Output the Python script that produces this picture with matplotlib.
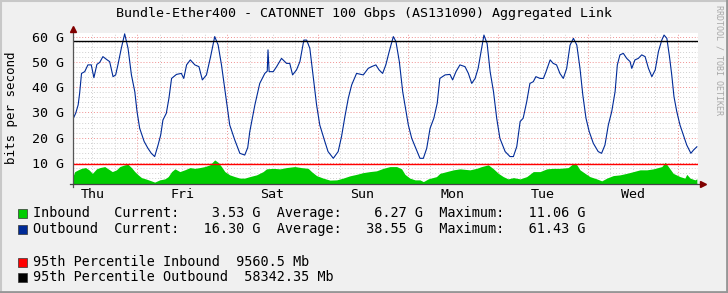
import matplotlib
matplotlib.use("Agg")
import matplotlib.pyplot as plt
from matplotlib.patches import Rectangle
from matplotlib.lines import Line2D

# 그림 크기 (픽셀)
W, H = 728, 293
MONO = "DejaVu Sans Mono"

title = "Bundle-Ether400 - CATONNET 100 Gbps (AS131090) Aggregated Link"
day_names = ["Thu", "Fri", "Sat", "Sun", "Mon", "Tue", "Wed"]

# 목요일 00:00 부터의 시간(h)
out_hours = [6.8, 7.55, 8.2, 8.6, 9.1, 9.95, 10.8, 11.7, 12.4, 13.2,
             13.95, 14.8, 15.75, 16.6, 17.5, 18.2, 18.8, 19.7, 20.6, 21.5,
             22.4, 23.3, 23.9, 24.6, 25.8, 26.8, 27.7, 28.6, 29.5, 30.2,
             30.8, 31.7, 32.4, 33.1, 34.4, 35.7, 36.35, 37.1, 38.1, 39.3,
             40.4, 41.3, 42.4, 43.5, 44.6, 45.5, 46.4, 47.55, 48.6, 49.95,
             51.3, 52.6, 53.4, 53.95, 55.3, 56.6, 57.95, 58.6, 58.8, 59.1,
             60.2, 61.1, 62.4, 63.75, 64.6, 65.35, 66.4, 67.3, 68.35, 69.1,
             69.95, 70.8, 71.75, 72.6, 73.95, 74.8, 76.2, 77.5, 78.4, 79.3,
             80.2, 81.1, 82.4, 84.2, 85.5, 86.4, 87.55, 88.4, 89.35, 90.2,
             91.1, 92.2, 92.9, 93.8, 94.7, 95.3, 96.2, 97.1, 98.4, 99.3,
             100.2, 101.1, 102.0, 103.0, 103.9, 104.6, 106.0, 107.3, 108.0, 108.9,
             109.95, 111.3, 112.2, 113.1, 114.0, 114.8, 115.5, 116.35, 117.2, 118.0,
             118.9, 119.75, 120.6, 122.0, 123.3, 124.2, 125.1, 126.0, 126.8, 127.75,
             128.6, 129.5, 130.2, 131.3, 132.2, 132.9, 134.0, 134.8, 135.7, 136.6,
             137.5, 138.4, 139.3, 140.2, 141.1, 141.95, 142.7, 143.55, 144.4, 145.5,
             146.8, 147.7, 148.6, 149.5, 150.4, 151.3, 151.9, 152.6, 153.5, 154.4,
             155.3, 155.75, 156.6, 157.5, 158.4, 159.3, 160.2, 161.1, 162.0, 162.85,
             163.75, 164.35, 165.1, 165.8, 166.4, 167.0, 167.75, 168.6, 169.5, 170.4,
             171.5, 172.2, 173.1]
out_gbps = [27.3, 29.7, 33.0, 37.7, 45.6, 46.3, 49.0, 49.0, 43.9, 49.2,
            50.0, 52.3, 51.2, 50.3, 44.3, 45.0, 49.0, 55.6, 61.4, 55.6,
            45.0, 38.3, 30.3, 23.7, 18.4, 15.7, 13.7, 12.4, 17.0, 21.0,
            27.0, 29.7, 35.7, 43.6, 45.2, 45.6, 43.6, 49.0, 51.0, 49.0,
            48.3, 43.0, 45.0, 52.3, 60.3, 57.0, 49.0, 36.3, 25.0, 19.0,
            13.7, 13.0, 16.0, 22.4, 33.0, 41.6, 45.6, 46.5, 55.0, 46.3,
            46.3, 48.3, 51.6, 49.6, 49.6, 45.0, 47.0, 50.3, 58.9, 58.9,
            55.6, 45.0, 33.0, 25.0, 18.4, 14.4, 11.7, 14.4, 20.4, 28.4,
            35.7, 41.0, 45.6, 45.0, 47.6, 48.3, 49.0, 47.0, 45.6, 49.0,
            54.3, 60.3, 58.3, 50.3, 38.3, 33.0, 25.0, 19.7, 15.0, 11.7,
            11.7, 15.7, 23.7, 27.7, 33.7, 43.6, 45.0, 45.2, 43.0, 46.3,
            49.0, 48.3, 45.6, 41.6, 43.6, 47.6, 53.6, 60.9, 57.5, 46.3,
            38.3, 27.7, 19.7, 14.4, 12.4, 12.4, 16.4, 26.4, 27.7, 34.3,
            41.6, 42.3, 44.3, 43.6, 43.6, 46.3, 51.0, 49.6, 49.0, 45.6,
            43.6, 47.6, 56.9, 59.6, 56.9, 47.6, 37.0, 27.7, 22.4, 17.7,
            14.4, 13.7, 17.0, 25.0, 30.3, 38.3, 49.0, 53.0, 53.6, 51.6,
            50.3, 47.6, 51.0, 51.6, 53.0, 52.3, 47.6, 44.3, 47.0, 54.3,
            58.9, 60.9, 59.6, 52.3, 45.0, 36.3, 30.3, 25.0, 21.0, 17.0,
            13.7, 15.0, 16.3]

in_hours = [6.8, 7.3, 8.2, 9.1, 10.2, 11.1, 12.0, 13.1, 14.0, 15.3,
            16.2, 17.3, 18.4, 19.3, 20.6, 21.5, 22.4, 23.3, 24.2, 25.1,
            26.4, 27.7, 28.6, 29.95, 31.3, 32.2, 33.1, 34.0, 35.3, 36.6,
            38.0, 39.3, 40.6, 41.95, 43.3, 44.6, 45.5, 46.4, 47.3, 48.6,
            49.95, 51.3, 52.6, 53.95, 55.75, 57.5, 58.4, 60.2, 62.0, 63.7,
            65.95, 67.7, 69.5, 70.4, 71.75, 73.5, 75.3, 77.1, 78.8, 80.6,
            82.4, 84.2, 85.95, 87.7, 89.5, 91.3, 93.1, 94.4, 95.3, 96.6,
            98.0, 99.3, 100.2, 101.5, 103.7, 104.6, 106.4, 108.2, 109.95, 112.6,
            114.4, 115.7, 117.5, 118.9, 120.2, 121.5, 122.8, 124.2, 126.0, 127.75,
            129.5, 131.3, 133.1, 134.8, 136.6, 138.8, 140.2, 141.1, 141.95, 143.3,
            144.6, 146.4, 147.75, 149.1, 150.8, 152.6, 154.4, 156.2, 157.95, 159.75,
            161.5, 163.75, 164.65, 165.5, 166.8, 168.6, 169.9, 170.4, 171.3, 172.6,
            173.1]
in_gbps = [4.4, 6.4, 7.1, 7.7, 8.0, 7.1, 5.7, 7.5, 8.0, 8.4,
           7.5, 6.4, 7.1, 8.4, 9.1, 9.3, 8.0, 6.4, 5.1, 4.0,
           3.4, 2.7, 2.2, 3.1, 3.5, 4.4, 6.4, 7.5, 6.4, 7.1,
           8.0, 7.7, 8.0, 8.4, 9.1, 11.06, 10.1, 8.4, 6.4, 5.1,
           4.4, 3.8, 3.8, 4.4, 5.1, 6.4, 7.5, 7.7, 7.5, 8.0,
           8.4, 8.0, 7.7, 6.4, 4.8, 3.8, 3.0, 3.1, 3.8, 4.7,
           5.3, 6.0, 6.4, 6.7, 7.7, 8.4, 8.4, 7.5, 5.3, 3.8,
           3.1, 3.1, 2.4, 3.5, 4.4, 5.7, 6.4, 7.1, 7.5, 7.1,
           7.7, 8.4, 9.1, 7.5, 5.7, 4.4, 3.5, 4.0, 3.5, 4.4,
           6.4, 6.4, 7.5, 7.7, 7.7, 8.0, 9.7, 9.1, 7.1, 5.7,
           4.4, 3.5, 2.7, 3.8, 4.8, 5.1, 5.7, 6.4, 7.1, 7.1,
           7.5, 8.4, 10.1, 8.4, 5.7, 4.4, 3.8, 5.3, 3.8, 3.1,
           3.53]

# 95번째 백분위 (Gbps)
p95_in = 9.5605
p95_out = 58.34235

legend_lines = [
    "Inbound   Current:    3.53 G  Average:    6.27 G  Maximum:   11.06 G",
    "Outbound  Current:   16.30 G  Average:   38.55 G  Maximum:   61.43 G",
    "95th Percentile Inbound  9560.5 Mb",
    "95th Percentile Outbound  58342.35 Mb",
]
legend_colors = ["#00CC00", "#002A97", "#FF0000", "#000000"]
legend_y = [213, 229, 262, 277]


def fx(px):
    return px / W


def fy(py):
    return 1 - py / H


fig = plt.figure(figsize=(W / 100, H / 100), dpi=100)
fig.patch.set_facecolor("#F0F0F0")

# 그래프 영역
x0, x1, y0, y1 = 72.7, 698, 32.7, 184
ax = fig.add_axes([fx(x0), fy(y1), (x1 - x0) / W, (y1 - y0) / H])
ax.set_facecolor("white")
ax.set_xlim(6.75, 173.4)
ax.set_ylim(1.45, 61.85)

# 격자
for v in range(2, 62, 2):
    if v % 10:
        ax.axhline(v, color="#D0D0D0", lw=0.7, ls=(0, (1, 2)), zorder=0)
for v in range(10, 61, 10):
    ax.axhline(v, color="#F09090", lw=0.7, ls=(0, (1, 2)), zorder=0)
for h in range(6, 175, 6):
    if h % 24:
        ax.axvline(h, color="#D0D0D0", lw=0.7, ls=(0, (1, 2)), zorder=0)
for h in range(24, 175, 24):
    ax.axvline(h, color="#F09090", lw=0.7, ls=(0, (1, 2)), zorder=0)

ax.fill_between(in_hours, 0, in_gbps, color="#00CC00", lw=0, zorder=2)
ax.plot(out_hours, out_gbps, color="#002A97", lw=0.8, zorder=3)
ax.axhline(p95_in, color="#FF0000", lw=1.0, zorder=4)
ax.axhline(p95_out, color="#000000", lw=1.0, zorder=4)

for s in ax.spines.values():
    s.set_visible(False)
ax.set_xticks([12 + 24 * i for i in range(7)])
ax.set_xticklabels(day_names, fontfamily=MONO, fontsize=9.6)
ax.set_yticks(range(10, 61, 10))
ax.set_yticklabels([f"{v} G" for v in range(10, 61, 10)], fontfamily=MONO, fontsize=9.6)
ax.tick_params(length=0, pad=6)
ax.tick_params(axis="x", pad=3)

# 축선과 화살표
fig.add_artist(Line2D([fx(x0), fx(x0)], [fy(y1 + 3), fy(29)], color="#555555", lw=0.9))
fig.add_artist(Line2D([fx(x0 - 3), fx(702)], [fy(y1), fy(y1)], color="#444444", lw=0.9))
fig.add_artist(Line2D([fx(x0)], [fy(28.5)], marker="^", ms=5, color="#800000", lw=0))
fig.add_artist(Line2D([fx(703)], [fy(y1)], marker=">", ms=5, color="#800000", lw=0))

fig.text(fx(364), fy(13), title, fontfamily=MONO, fontsize=9.6, ha="center", va="center")
fig.text(fx(12), fy(108), "bits per second", fontfamily=MONO, fontsize=9.0,
         rotation=90, ha="center", va="center")
fig.text(fx(719), fy(5), "RRDTOOL / TOBI OETIKER", fontfamily=MONO, fontsize=6,
         rotation=270, ha="center", va="top", color="#A8A8A8")

# 범례
for txt, col, yy in zip(legend_lines, legend_colors, legend_y):
    fig.add_artist(Rectangle((fx(17.5), fy(yy + 4.5)), 9 / W, 9 / H,
                             facecolor=col, edgecolor="#333333", lw=0.5))
    fig.text(fx(33), fy(yy), txt, fontfamily=MONO, fontsize=9.72, va="center", ha="left")

# 테두리 음영
fig.add_artist(Line2D([0, 1], [fy(1), fy(1)], color="#C8C8C8", lw=1.5))
fig.add_artist(Line2D([fx(1), fx(1)], [0, 1], color="#C8C8C8", lw=1.5))
fig.add_artist(Line2D([0, 1], [fy(292), fy(292)], color="#969696", lw=2))
fig.add_artist(Line2D([fx(727), fx(727)], [0, 1], color="#969696", lw=2))

fig.savefig("out.png", dpi=100, facecolor=fig.get_facecolor())
